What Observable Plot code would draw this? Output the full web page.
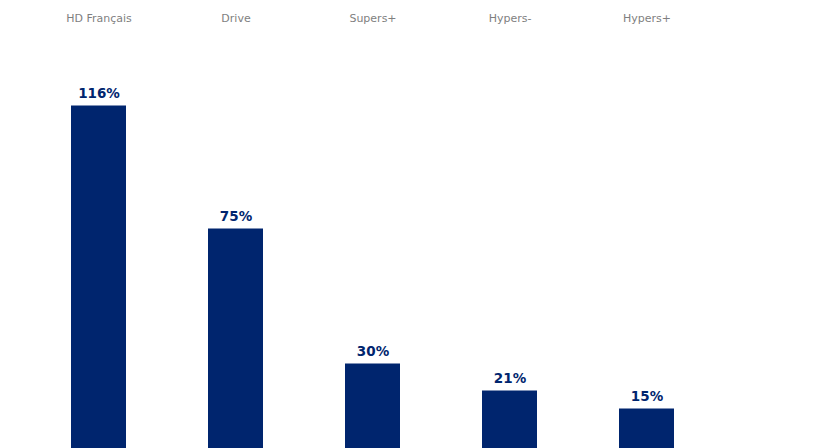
<!DOCTYPE html>
<html>
<head>
<meta charset="utf-8">
<script src="https://cdn.jsdelivr.net/npm/d3@7"></script>
<script src="https://cdn.jsdelivr.net/npm/@observablehq/plot@0.6"></script>
<style>
html,body{margin:0;padding:0;background:#fff;overflow:hidden;}
#chart{width:834px;height:448px;overflow:hidden;}
</style>
</head>
<body>
<div id="chart"></div>
<script>
const categories = ["HD Français", "Drive", "Supers+", "Hypers-", "Hypers+"];
const values = [116, 75, 30, 21, 15];
const labels = ["116%", "75%", "30%", "21%", "15%"];

const data = categories.map((c, i) => ({cat: c, value: values[i], label: labels[i]}));
const navy = "#00256e";

const chart = Plot.plot({
  width: 834,
  height: 448,
  marginTop: 0,
  marginBottom: 0,
  marginLeft: 0,
  marginRight: 0,
  style: {background: "#fff", overflow: "hidden"},
  x: {domain: categories, range: [29, 716.5], paddingInner: 0.6, paddingOuter: 0.3, axis: null},
  y: {domain: [0, 140], range: [453.5, 33.5], axis: null},
  marks: [
    Plot.barY(data, {x: "cat", y: "value", fill: navy}),
    Plot.text(data, {x: "cat", y: "value", text: "label", dy: -12, lineAnchor: "middle",
      fill: navy, fontWeight: "bold", fontSize: 13.5, fontFamily: "DejaVu Sans"}),
    Plot.text(data, {x: "cat", frameAnchor: "top", dy: 18, text: "cat", lineAnchor: "middle",
      fill: "#7f7f7f", fontSize: 11, fontFamily: "DejaVu Sans"})
  ]
});
document.getElementById("chart").append(chart);
</script>
</body>
</html>
